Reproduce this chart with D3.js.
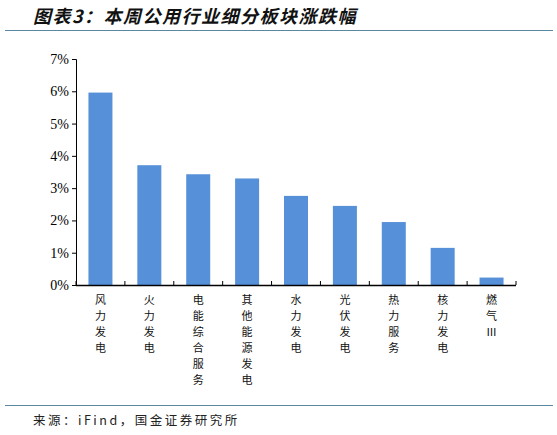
<!DOCTYPE html><html><head><meta charset="utf-8">
<script src="https://cdn.jsdelivr.net/npm/d3@7"></script>
<style>body{margin:0;background:#fff}</style></head><body>
<script>
const categories=["风力发电","火力发电","电能综合服务","其他能源发电","水力发电","光伏发电","热力服务","核力发电","燃气Ⅲ"];
const values=[5.96,3.71,3.43,3.3,2.76,2.45,1.95,1.15,0.23];
const yTicks=[0,1,2,3,4,5,6,7];
const W=557,H=435;
const svg=d3.select("body").append("svg").attr("width",W).attr("height",H);
svg.append("text").attr("x",33).attr("y",23).attr("font-family","Noto Sans CJK SC").attr("font-size",18).attr("letter-spacing",1.5).attr("font-style","italic").attr("font-weight","bold").attr("fill","#111").text("图表3：本周公用行业细分板块涨跌幅");
svg.append("line").attr("x1",5).attr("x2",553).attr("y1",30.5).attr("y2",30.5).attr("stroke","#5b87a0").attr("stroke-width",1);
svg.append("line").attr("x1",5).attr("x2",553).attr("y1",405.5).attr("y2",405.5).attr("stroke","#5b87a0").attr("stroke-width",1);
svg.append("text").attr("x",33).attr("y",425).attr("font-family","Noto Sans CJK SC").attr("font-size",12.5).attr("letter-spacing",2.5).attr("fill","#222").text("来源：iFind，国金证券研究所");
const x=d3.scaleBand().domain(categories).range([76,516]);
const y=d3.scaleLinear().domain([0,7]).range([285,59]);
const g=svg.append("g");
g.selectAll("rect").data(values).join("rect").attr("x",(d,i)=>x(categories[i])+x.bandwidth()/2-12).attr("width",24)
 .attr("y",d=>y(d)).attr("height",d=>y(0)-y(d)).attr("fill","#5590d8");
const ya=g.append("g").attr("transform","translate(76,0)").call(d3.axisLeft(y).tickValues(yTicks).tickFormat(d=>d+"%").tickSize(4));
ya.selectAll("text").attr("font-family","Liberation Serif").attr("font-size",14).attr("fill","#000");
ya.select(".domain").attr("stroke","#000");
g.append("line").attr("x1",76).attr("x2",516).attr("y1",285.5).attr("y2",285.5).attr("stroke","#000").attr("stroke-width",1.3);
g.selectAll(".xt").data(d3.range(categories.length+1)).join("line").attr("x1",d=>76+d*x.step()).attr("x2",d=>76+d*x.step()).attr("y1",285).attr("y2",281).attr("stroke","#000");
categories.forEach((c,i)=>{
 Array.from(c).forEach((ch,j)=>g.append("text").attr("font-family","Noto Sans CJK SC").attr("font-size",11).attr("fill","#111").attr("text-anchor","middle")
  .attr("x",x(c)+x.bandwidth()/2).attr("y",304+j*16).text(ch));
});
</script></body></html>
